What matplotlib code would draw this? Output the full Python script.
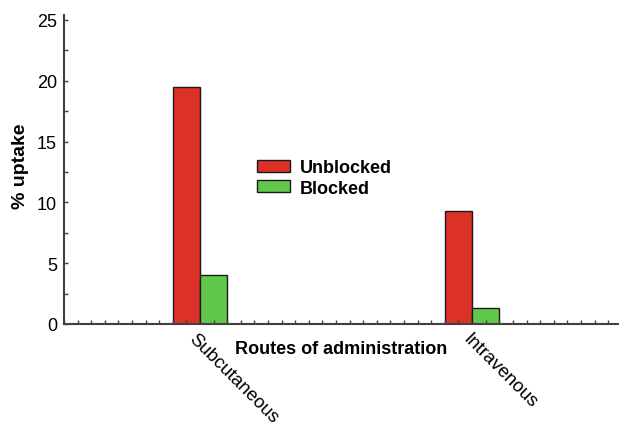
import matplotlib.pyplot as plt
import numpy as np
from matplotlib.ticker import MultipleLocator
from matplotlib.transforms import ScaledTranslation

plt.rcParams['font.family'] = ['Liberation Sans', 'DejaVu Sans']

routes = ['Subcutaneous', 'Intravenous']
unblocked = [19.5, 9.3]
blocked = [4.0, 1.3]

red = '#dc3126'
green = '#62c84c'
axis_col = '#404040'

fig = plt.figure(figsize=(6.19, 4.27), dpi=100)
ax = fig.add_axes([0.1034, 0.2389, 0.8966, 0.7236])

x = np.arange(len(routes))
w = 0.1
ax.bar(x - w / 2, unblocked, w, color=red, edgecolor='#1a1a1a', linewidth=1, label='Unblocked')
ax.bar(x + w / 2, blocked, w, color=green, edgecolor='#1a1a1a', linewidth=1, label='Blocked')

ax.set_xlim(-0.5, 1.54)
ax.set_ylim(0, 25.4)

for s in ['top', 'right']:
    ax.spines[s].set_visible(False)
for s in ['left', 'bottom']:
    ax.spines[s].set_color(axis_col)
    ax.spines[s].set_linewidth(1.5)

ax.set_yticks([0, 5, 10, 15, 20, 25])
ax.yaxis.set_minor_locator(MultipleLocator(2.5))
ax.tick_params(axis='y', which='both', direction='in', length=3, width=1,
               color=axis_col, labelsize=13, pad=5)

ax.set_xticks(x)
ax.set_xticklabels(routes, rotation=-45, ha='left', va='top', fontsize=13.4,
                   fontweight='medium')
ax.xaxis.set_minor_locator(MultipleLocator(0.05))
ax.tick_params(axis='x', which='major', length=0, pad=4)
ax.tick_params(axis='x', which='minor', direction='in', length=3, width=1, color=axis_col)
# nudge the slanted labels so they start just left of each group
for lab, dx in zip(ax.get_xticklabels(), [-15, -13]):
    lab.set_transform(lab.get_transform() + ScaledTranslation(dx / 100, 0, fig.dpi_scale_trans))

ax.set_xlabel('Routes of administration', fontsize=13, fontweight='bold')
ax.xaxis.set_label_coords(0.5, -0.078)
ax.xaxis.label.set_va('center')
ax.set_ylabel('% uptake', fontsize=14, fontweight='bold')
ax.yaxis.set_label_coords(-0.063, 0.515)

ax.legend(loc='upper left', bbox_to_anchor=(257 / 619, 1 - 160 / 427),
          bbox_transform=fig.transFigure, frameon=False,
          prop={'weight': 'bold', 'size': 13}, handlelength=1.8, handleheight=0.66,
          handletextpad=0.55, labelspacing=0.2, borderpad=0, borderaxespad=0)

fig.savefig('out.png', dpi=100)
